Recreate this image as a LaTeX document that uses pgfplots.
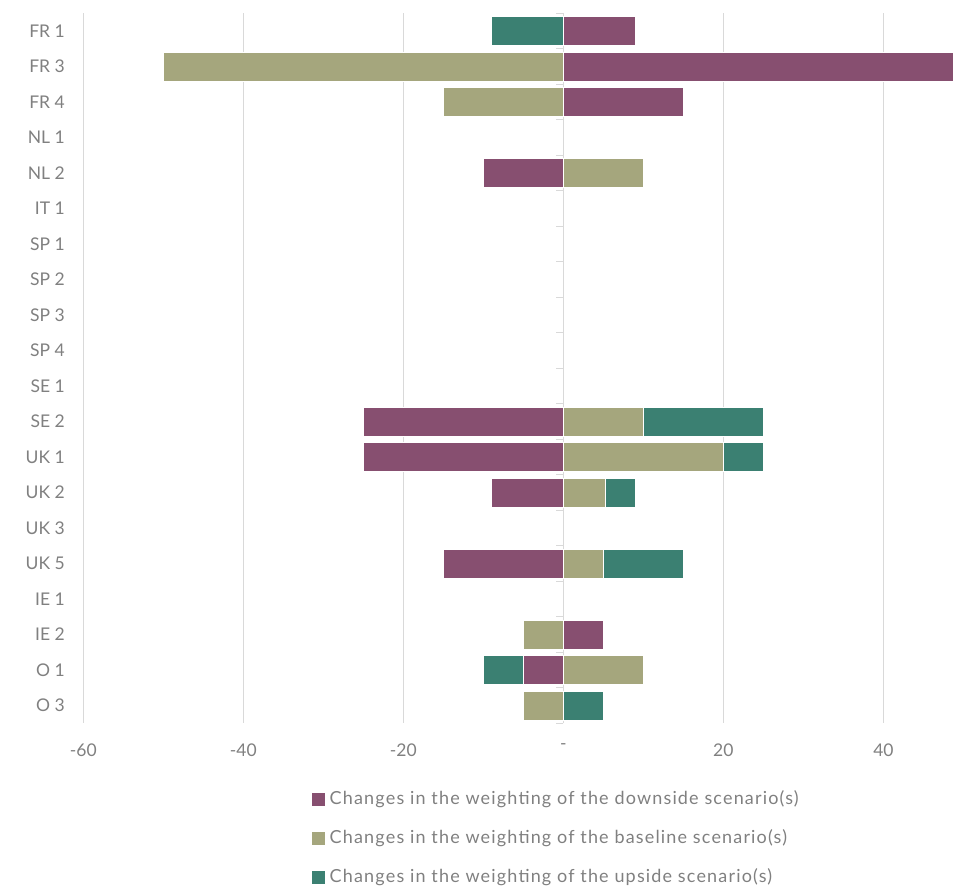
\documentclass[border=0pt]{standalone}
\usepackage{pgfplots}
\pgfplotsset{compat=1.18}
\usepackage{pgfplotstable}
\usepackage{fontspec}
\setmainfont{Lato}
\definecolor{down}{RGB}{135,79,112}
\definecolor{basec}{RGB}{165,166,125}
\definecolor{up}{RGB}{59,128,114}
\definecolor{txt}{RGB}{128,128,128}
\definecolor{gridc}{RGB}{217,217,217}

\pgfplotstableread{
idx nd nb nu pd pb pu
0 0 0 -9 9 0 0
1 0 -50 0 50 0 0
2 0 -15 0 15 0 0
3 0 0 0 0 0 0
4 -10 0 0 0 10 0
5 0 0 0 0 0 0
6 0 0 0 0 0 0
7 0 0 0 0 0 0
8 0 0 0 0 0 0
9 0 0 0 0 0 0
10 0 0 0 0 0 0
11 -25 0 0 0 10 15
12 -25 0 0 0 20 5
13 -9 0 0 0 5.3 3.7
14 0 0 0 0 0 0
15 -15 0 0 0 5 10
16 0 0 0 0 0 0
17 0 -5 0 5 0 0
18 -5 0 -5 0 10 0
19 0 -5 0 0 0 5
}\data

\pgfplotsset{
  common/.style={
    scale only axis, width=869.7bp, height=710bp,
    xmin=-60, xmax=48.7, ymin=-0.5, ymax=19.5, y dir=reverse,
    xbar stacked, bar width=29bp,
    axis line style={draw=none}, major tick length=0pt,
    font=\fontsize{17.5bp}{20bp}\selectfont,
  },
  barst/.style={fill=#1, draw=white, line width=0.6bp},
}

\begin{document}
\begin{tikzpicture}
\useasboundingbox (-83.3bp,-164.75bp) rectangle (869.7bp,723.25bp);
\begin{axis}[common,
  xmajorgrids, grid style={gridc, line width=1.5bp},
  xtick={-60,-40,-20,0,20,40},
  xticklabels={-60,-40,-20,-,20,40},
  ytick={0,...,19},
  yticklabels={FR 1,FR 3,FR 4,NL 1,NL 2,IT 1,SP 1,SP 2,SP 3,SP 4,SE 1,SE 2,UK 1,UK 2,UK 3,UK 5,IE 1,IE 2,O 1,O 3},
  tick label style={text=txt},
  xticklabel style={yshift=-17bp},
  yticklabel style={xshift=-15bp},
  legend style={at={(0.263,-0.093)}, anchor=north west, draw=none, fill=none,
    text=txt, row sep=18bp, inner sep=0pt,
    font=\fontsize{18bp}{20bp}\selectfont\addfontfeature{LetterSpace=6.5},
    nodes={inner xsep=4.5bp, inner ysep=2bp, text height=13bp, text depth=4bp}},
  legend cell align=left,
  legend image code/.code={\path[#1, draw=none] (0bp,-6.5bp) rectangle (13bp,6.5bp);},
]
\addplot[barst=down] table[x=nd, y=idx]{\data};
\addplot[barst=basec] table[x=nb, y=idx]{\data};
\addplot[barst=up] table[x=nu, y=idx]{\data};
\legend{Changes in the weighting of the downside scenario(s),
        Changes in the weighting of the baseline scenario(s),
        Changes in the weighting of the upside scenario(s)}
\end{axis}
\begin{axis}[common, hide axis]
\addplot[barst=down] table[x=pd, y=idx]{\data};
\addplot[barst=basec] table[x=pb, y=idx]{\data};
\addplot[barst=up] table[x=pu, y=idx]{\data};
\draw[gridc, line width=1.5bp] (axis cs:0,-0.5) -- (axis cs:0,19.5);
\pgfplotsinvokeforeach{-0.5,0.5,...,19.5}{
  \draw[gridc, line width=1.2bp] (axis cs:0,#1) -- ++(-7bp,0pt);
}
\end{axis}
\end{tikzpicture}
\end{document}
